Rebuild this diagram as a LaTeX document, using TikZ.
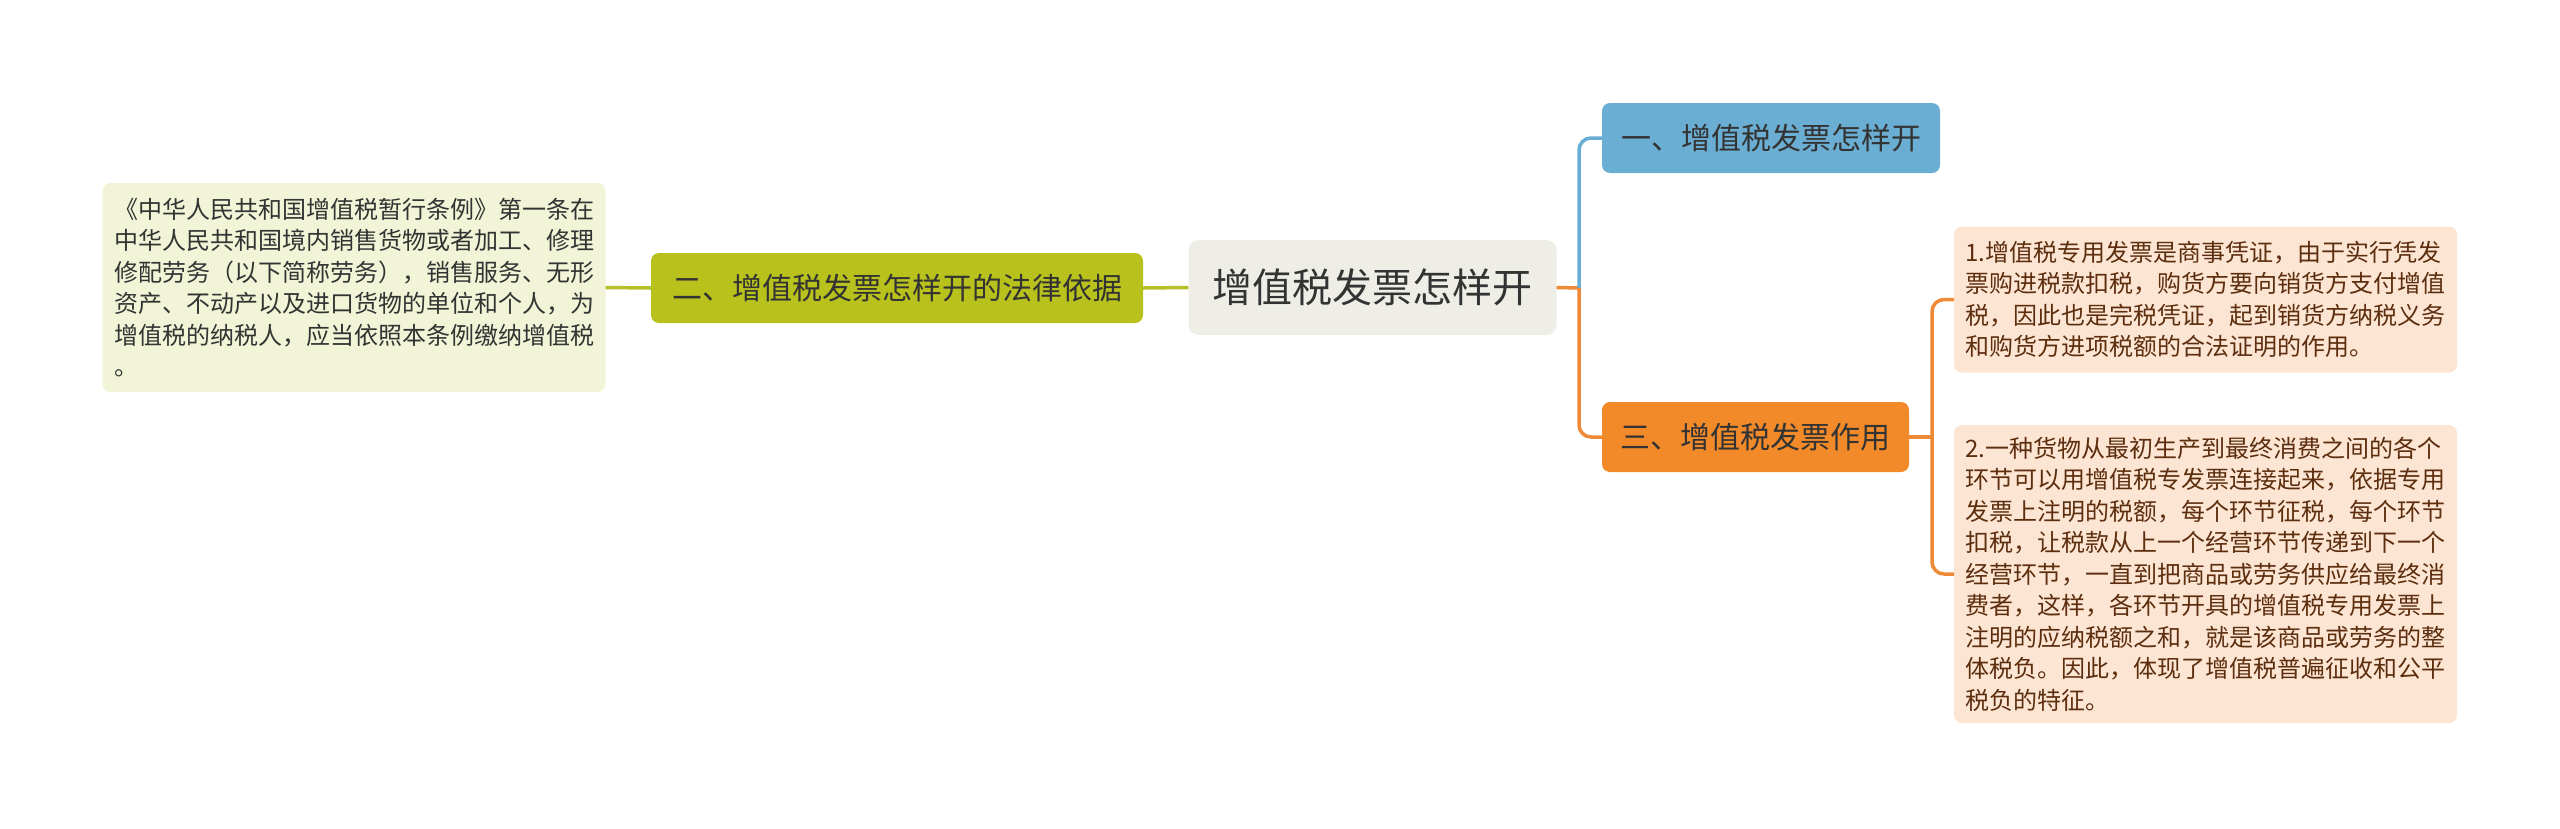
\documentclass[tikz,border=0pt]{standalone}
\usepackage{fontspec}
\setmainfont{Noto Sans CJK SC}
\definecolor{cfill}{HTML}{EEEEE7}
\definecolor{gfill}{HTML}{B9C21C}
\definecolor{gline}{HTML}{B5BF26}
\definecolor{lfill}{HTML}{F1F4D6}
\definecolor{bfill}{HTML}{6BAED3}
\definecolor{bline}{HTML}{67ADD4}
\definecolor{ofill}{HTML}{F28A2A}
\definecolor{oline}{HTML}{EE8A35}
\definecolor{rfill}{HTML}{FDE5D4}
\definecolor{rtext}{HTML}{5C2E0E}
\definecolor{dtext}{HTML}{333333}
\tikzset{
  box/.style={inner sep=0pt, rounded corners=8pt, text=dtext, align=left},
  rootbox/.style={box, fill=cfill, rounded corners=10pt, font=\fontsize{40}{48}\selectfont},
  mainbox/.style={box, font=\fontsize{30}{36}\selectfont, minimum height=70pt},
  leafbox/.style={box, font=\fontsize{24}{31.5}\selectfont, minimum width=503pt},
  conn/.style={line width=3.5pt},
}
\begin{document}
\begin{tikzpicture}[x=1pt,y=-1pt]
\useasboundingbox (0,0) rectangle (2560,828);
% nodes
\node[rootbox, minimum width=368pt, minimum height=95pt] (root) at (1372.5,287.5) {增值税发票怎样开};
\node[mainbox, fill=gfill, minimum width=492pt] (law) at (897,288) {二、增值税发票怎样开的法律依据};
\node[leafbox, fill=lfill, minimum height=209pt] (lawtxt) at (354,287.5)
  {《中华人民共和国增值税暂行条例》第一条在\\中华人民共和国境内销售货物或者加工、修理\\修配劳务（以下简称劳务），销售服务、无形\\资产、不动产以及进口货物的单位和个人，为\\增值税的纳税人，应当依照本条例缴纳增值税\\。};
\node[mainbox, fill=bfill, minimum width=338pt] (how) at (1771,138) {一、增值税发票怎样开};
\node[mainbox, fill=ofill, minimum width=307pt] (use) at (1755.5,437) {三、增值税发票作用};
\node[leafbox, fill=rfill, text=rtext, minimum height=146pt] (use1) at (2205.5,299.5)
  {1.增值税专用发票是商事凭证，由于实行凭发\\票购进税款扣税，购货方要向销货方支付增值\\税，因此也是完税凭证，起到销货方纳税义务\\和购货方进项税额的合法证明的作用。};
\node[leafbox, fill=rfill, text=rtext, minimum height=298pt] (use2) at (2205.5,574)
  {2.一种货物从最初生产到最终消费之间的各个\\环节可以用增值税专发票连接起来，依据专用\\发票上注明的税额，每个环节征税，每个环节\\扣税，让税款从上一个经营环节传递到下一个\\经营环节，一直到把商品或劳务供应给最终消\\费者，这样，各环节开具的增值税专用发票上\\注明的应纳税额之和，就是该商品或劳务的整\\体税负。因此，体现了增值税普遍征收和公平\\税负的特征。};
% junctions
\coordinate (jr) at (1579,288);
\coordinate (jo) at (1932,437);
% connectors
\draw[conn, gline] (root.west) -- (law.east);
\draw[conn, gline] (law.west) -- (lawtxt.east);
\draw[conn, oline] (root.east) -- (jr);
\draw[conn, bline, rounded corners=12pt] (jr) |- (how.west);
\draw[conn, oline, rounded corners=12pt] (jr) |- (use.west);
\draw[conn, oline] (use.east) -- (jo);
\draw[conn, oline, rounded corners=12pt] (jo) |- (use1.west);
\draw[conn, oline, rounded corners=12pt] (jo) |- (use2.west);
\end{tikzpicture}
\end{document}
